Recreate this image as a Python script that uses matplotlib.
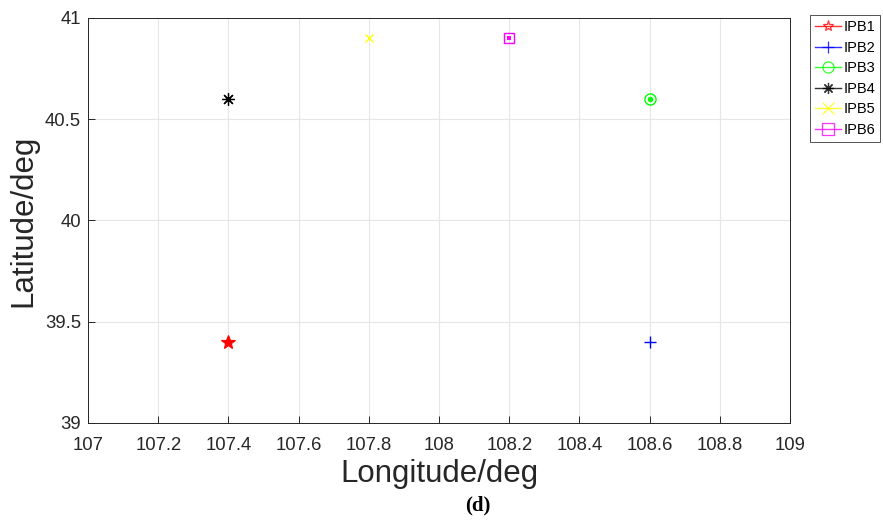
import matplotlib
matplotlib.use('Agg')
import matplotlib.pyplot as plt
from matplotlib.lines import Line2D

plt.rcParams['font.family'] = ['Liberation Sans', 'DejaVu Sans']

# 各IPB的经纬度位置
names = ['IPB1', 'IPB2', 'IPB3', 'IPB4', 'IPB5', 'IPB6']
lon = [107.4, 108.6, 108.6, 107.4, 107.8, 108.2]
lat = [39.4, 39.4, 40.6, 40.6, 40.9, 40.9]
colors = ['#ff0000', '#0000ff', '#00ff00', '#000000', '#ffff00', '#ff00ff']
markers = ['*', '+', 'o', (8, 2, 0), 'x', 's']
sizes = [10, 9, 8, 9, 6, 7]

fig = plt.figure(figsize=(8.83, 5.32), dpi=100)
ax = fig.add_axes([0.0997, 0.2049, 0.795, 0.7613])

handles = []
for n, x, y, c, m, s in zip(names, lon, lat, colors, markers, sizes):
    if m == '*':
        ax.plot(x, y, marker=m, color=c, ms=s, mfc=c, mew=0.8, ls='none')
    elif m == 'o' or m == 's':
        ax.plot(x, y, marker=m, color=c, ms=s, mfc='none', mew=1.0, ls='none')
        ax.plot(x, y, marker=m, color=c, ms=s * 0.5, mfc=c, mew=0, ls='none')
    elif m == (8, 2, 0):
        ax.plot(x, y, marker=m, color=c, ms=s, mew=0.9, ls='none')
        ax.plot(x, y, marker='s', color=c, ms=3, mew=0, ls='none')
    else:
        ax.plot(x, y, marker=m, color=c, ms=s, mew=1.0, ls='none')
    handles.append(Line2D([], [], color=c, lw=1.0, alpha=0.8, marker=m, ms=8,
                          mfc='none', mew=0.9, label=n))

ax.set_xlim(107, 109)
ax.set_ylim(39, 41)
ax.set_xticks([107 + 0.2 * i for i in range(11)])
ax.set_xticklabels(['107', '107.2', '107.4', '107.6', '107.8', '108',
                    '108.2', '108.4', '108.6', '108.8', '109'])
ax.set_yticks([39, 39.5, 40, 40.5, 41])
ax.set_yticklabels(['39', '39.5', '40', '40.5', '41'])
ax.grid(True, color='#e6e6e6', lw=0.8)
ax.set_axisbelow(True)
for sp in ax.spines.values():
    sp.set_color('#262626')
    sp.set_linewidth(0.7)
ax.tick_params(direction='in', length=5, width=0.7, labelsize=13.3,
               colors='#262626')
ax.tick_params(axis='x', pad=10)
ax.tick_params(axis='y', pad=5)
ax.set_xlabel('Longitude/deg', fontsize=22.5, color='#262626', labelpad=4)
ax.set_ylabel('Latitude/deg', fontsize=22.5, color='#262626', labelpad=5)

leg = fig.legend(handles=handles, loc='upper right',
                 bbox_to_anchor=(880 / 883, 1 - 15 / 532),
                 fontsize=10.5, frameon=True, fancybox=False, edgecolor='#262626',
                 handlelength=1.8, handletextpad=0.15, labelspacing=0.45,
                 borderpad=0.35, borderaxespad=0)
leg.get_frame().set_linewidth(0.7)

fig.text(0.541, 0.05, '(d)', ha='center', va='center', fontsize=15,
         fontweight='bold', family=['Liberation Serif', 'DejaVu Serif'])

fig.savefig('out.png', dpi=100)
